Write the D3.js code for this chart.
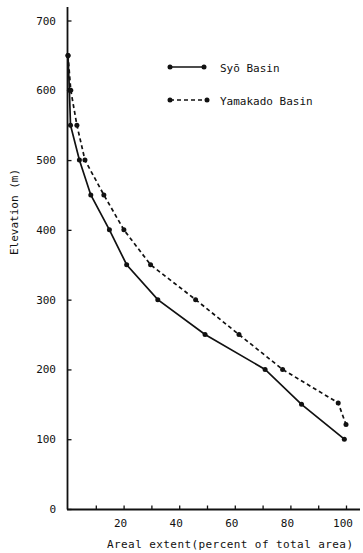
<!DOCTYPE html>
<html>
<head>
<meta charset="utf-8">
<script src="https://cdn.jsdelivr.net/npm/d3@7"></script>
<style>
  html, body { margin: 0; padding: 0; background: #fff; }
  svg { display: block; }
  text { font-family: "DejaVu Sans Mono", "Liberation Mono", monospace; fill: #111; }
</style>
</head>
<body>
<svg id="chart" width="363" height="553"></svg>
<script>
// Hypsometric curves: elevation vs. cumulative areal extent
const syoArea      = [0, 0.5, 0.9, 4.1, 8.2, 14.9, 21.1, 32.3, 49.3, 70.9, 84.0, 99.4];
const syoElev      = [650, 600, 550, 500, 450, 400, 350, 300, 250, 200, 150, 100];
const yamakadoArea = [0, 1.0, 3.2, 6.1, 12.9, 20.1, 29.7, 45.9, 61.5, 77.2, 97.2, 100];
const yamakadoElev = [650, 600, 550, 500, 450, 400, 350, 300, 250, 200, 152, 121];
const xTickValues  = [10, 20, 30, 40, 50, 60, 70, 80, 90, 100];
const xTickLabels  = [20, 40, 60, 80, 100];
const yTickValues  = [0, 100, 200, 300, 400, 500, 600, 700];
const seriesNames  = ["Syō Basin", "Yamakado Basin"];

const svg = d3.select("#chart");
const x = d3.scaleLinear().domain([0, 100]).range([68, 346]);
const y = d3.scaleLinear().domain([0, 700]).range([509, 20.5]);

const ink = "#111";
const fs = 11;

// Axes lines
svg.append("line").attr("x1", 67.5).attr("x2", 67.5).attr("y1", 7).attr("y2", 509.5)
  .attr("stroke", ink).attr("stroke-width", 1.8);
svg.append("line").attr("x1", 67).attr("x2", 360).attr("y1", 509.5).attr("y2", 509.5)
  .attr("stroke", ink).attr("stroke-width", 1.8);

// Y ticks (inward) and labels
const yAxis = d3.axisRight(y).tickValues(yTickValues).tickSize(4).tickFormat("");
const gy = svg.append("g").attr("transform", "translate(67.5,0)").call(yAxis);
gy.select(".domain").remove();
gy.selectAll(".tick line").attr("stroke", ink).attr("stroke-width", 1.3);
svg.selectAll(".ylab").data(yTickValues).join("text")
  .attr("class", "ylab")
  .attr("x", 56).attr("y", d => y(d) + 4)
  .attr("text-anchor", "end").attr("font-size", fs)
  .text(d => d);

// X ticks (inward) and labels
const xAxis = d3.axisTop(x).tickValues(xTickValues).tickSize(4).tickFormat("");
const gx = svg.append("g").attr("transform", "translate(0,509.5)").call(xAxis);
gx.select(".domain").remove();
gx.selectAll(".tick line").attr("stroke", ink).attr("stroke-width", 1.3);
svg.selectAll(".xlab").data(xTickLabels).join("text")
  .attr("class", "xlab")
  .attr("x", d => x(d) - 3).attr("y", 527)
  .attr("text-anchor", "middle").attr("font-size", fs)
  .text(d => d);

// Axis titles
svg.append("text").attr("x", 230).attr("y", 548)
  .attr("text-anchor", "middle").attr("font-size", fs)
  .attr("textLength", 246).attr("lengthAdjust", "spacing")
  .text("Areal extent(percent of total area)");
svg.append("text")
  .attr("transform", "translate(18,212) rotate(-90)")
  .attr("text-anchor", "middle").attr("font-size", fs)
  .text("Elevation (m)");

// Series
const series = [
  { name: seriesNames[0], area: syoArea, elev: syoElev, dash: null },
  { name: seriesNames[1], area: yamakadoArea, elev: yamakadoElev, dash: "4,3" }
];
const line = d3.line().x(d => x(d[0])).y(d => y(d[1]));

series.forEach(s => {
  const pts = s.area.map((a, i) => [a, s.elev[i]]);
  svg.append("path").datum(pts)
    .attr("d", line)
    .attr("fill", "none").attr("stroke", ink)
    .attr("stroke-width", 1.7)
    .attr("stroke-dasharray", s.dash);
  svg.append("g").selectAll("circle").data(pts).join("circle")
    .attr("cx", d => x(d[0])).attr("cy", d => y(d[1]))
    .attr("r", 2.5).attr("fill", ink);
});

// Legend
const legend = svg.append("g");
series.forEach((s, i) => {
  const ly = 67 + i * 33;
  const x0 = 170, x1 = i === 0 ? 204 : 207;
  legend.append("line").attr("x1", x0).attr("x2", x1).attr("y1", ly).attr("y2", ly)
    .attr("stroke", ink).attr("stroke-width", 1.7).attr("stroke-dasharray", s.dash);
  legend.append("circle").attr("cx", x0).attr("cy", ly).attr("r", 2.5).attr("fill", ink);
  legend.append("circle").attr("cx", x1).attr("cy", ly).attr("r", 2.5).attr("fill", ink);
  legend.append("text").attr("x", 220).attr("y", ly + 4.5)
    .attr("font-size", fs).text(s.name);
});
</script>
</body>
</html>
